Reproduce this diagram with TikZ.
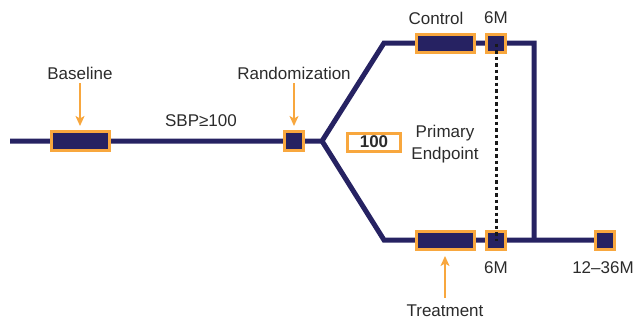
\documentclass[tikz,border=0pt]{standalone}
\usepackage{fontspec}
\setmainfont{Liberation Sans}
\usetikzlibrary{arrows.meta}
\definecolor{navy}{HTML}{262262}
\definecolor{orng}{HTML}{F8A73E}
\definecolor{txt}{HTML}{2B2B2B}
\begin{document}
\begin{tikzpicture}[x=1pt,y=-1pt,
  track/.style={draw=navy,line width=5pt,line join=miter},
  bigbox/.style={draw=orng,fill=navy,line width=3pt,inner sep=0pt,minimum width=58pt,minimum height=18.5pt},
  smallbox/.style={draw=orng,fill=navy,line width=3pt,inner sep=0pt,minimum width=18.5pt,minimum height=18.5pt},
  lbl/.style={text=txt,font=\fontsize{17}{19}\selectfont,inner sep=0pt},
  pointer/.style={draw=orng,line width=1.6pt,-{Stealth[length=10pt,width=9pt,inset=2.5pt]}}]
\useasboundingbox (0,0) rectangle (636,322);
% track coordinates
\coordinate (start) at (10,141);
\coordinate (branch) at (322,141);
\coordinate (uc) at (384,43);
\coordinate (ur) at (534,43);
\coordinate (lc) at (384,240);
\coordinate (lr) at (534,240);
\coordinate (lend) at (605,240);
\draw[track] (start) -- (branch) -- (uc) -- (ur) -- (lr);
\draw[track] (branch) -- (lc) -- (lend);
% boxes
\node[bigbox] (base) at (80,141) {};
\node[smallbox] (rand) at (294,141) {};
\node[bigbox] (ctrl) at (445,43.5) {};
\node[smallbox] (u6) at (496,43.5) {};
\node[bigbox] (trt) at (445,240.5) {};
\node[smallbox] (l6) at (496,240.5) {};
\node[smallbox] (late) at (605,240.5) {};
% dotted line
\draw[black!90,line width=3pt,dash pattern=on 3.5pt off 3pt] (u6.center) -- (l6.center);
% labels
\node[lbl] (tbase) at (80,73) {Baseline};
\node[lbl] (trand) at (294,73) {Randomization};
\node[lbl] (sbp) at (201,121) {SBP≥100};
\node[lbl] (tctrl) at (436,18) {Control};
\node[lbl] (tu6) at (496,18) {6M};
\node[lbl] (tl6) at (496,268) {6M};
\node[lbl] (tlate) at (603,268) {12–36M};
\node[lbl] (ttrt) at (445,311) {Treatment};
\node[draw=orng,line width=3pt,fill=white,minimum width=53pt,minimum height=18pt,inner sep=0pt,text=txt,font=\fontsize{17}{19}\selectfont\bfseries] (hund) at (374,142) {100};
\node[lbl,align=center,font=\fontsize{17}{22}\selectfont] (prim) at (445,144) {Primary\\Endpoint};
% pointers
\draw[pointer] (tbase.south |- 0,83) -- (base.north |- 0,126);
\draw[pointer] (trand.south |- 0,83) -- (rand.north |- 0,126);
\draw[pointer] (ttrt.north |- 0,298) -- (trt.south |- 0,256);
\end{tikzpicture}
\end{document}
